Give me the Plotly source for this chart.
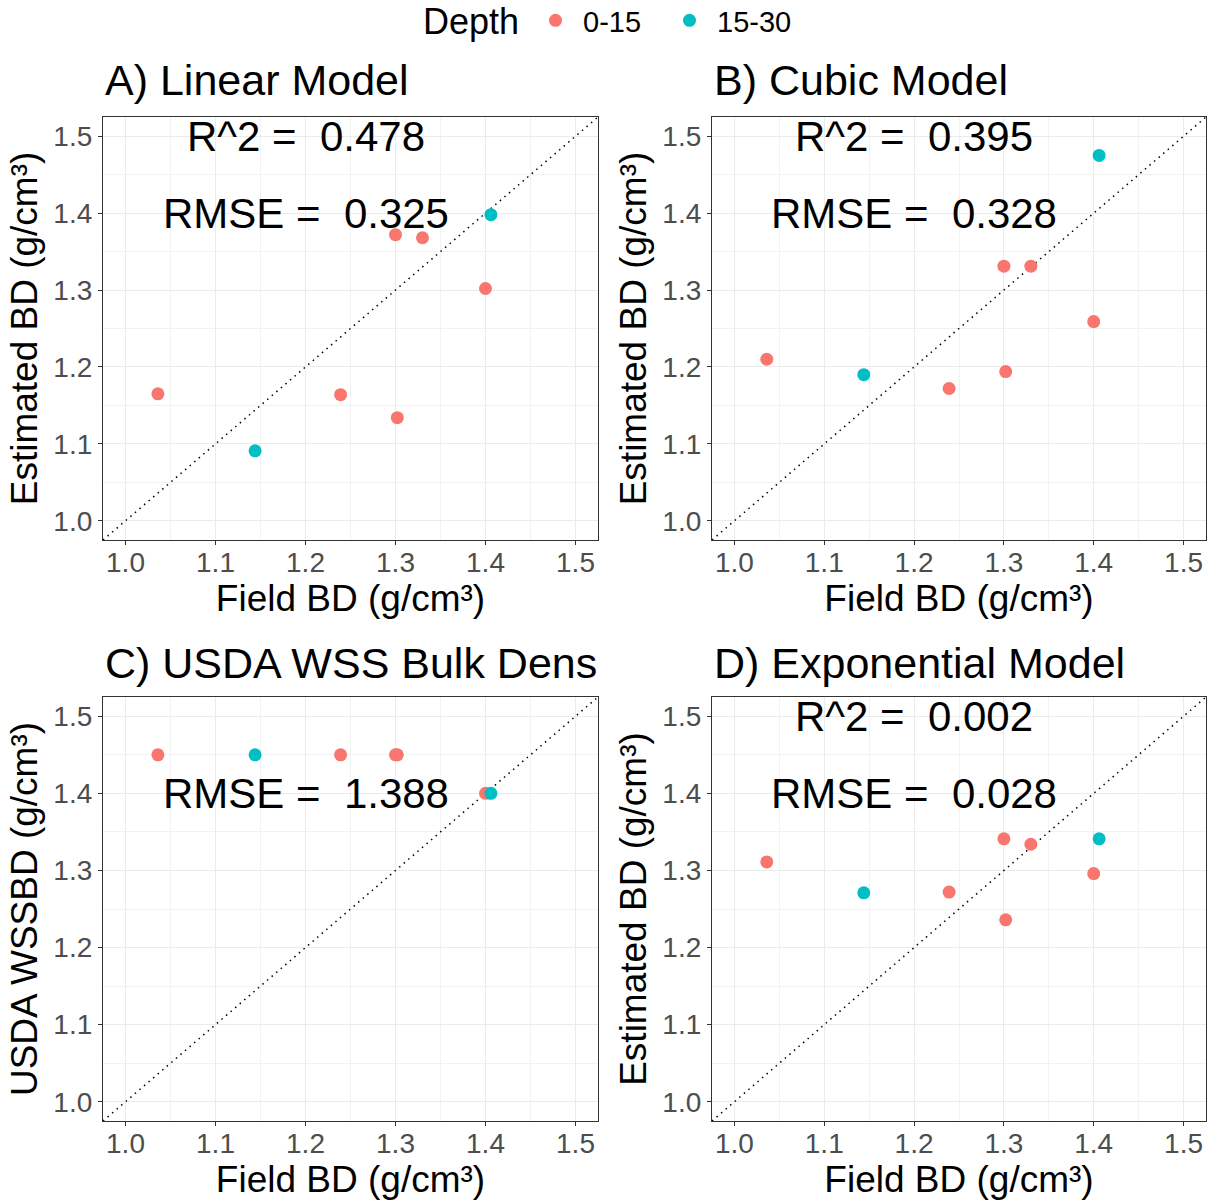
import plotly.graph_objects as go

# ---------------- data ----------------
depth_title = "Depth"
depth_labels = ["0-15", "15-30"]
depth_colors = ["#F8766D", "#00BFC4"]

field_bd_015 = [1.036, 1.239, 1.300, 1.302, 1.330, 1.400]
field_bd_1530 = [1.144, 1.406]

linear_015 = [1.165, 1.164, 1.372, 1.134, 1.368, 1.302]
linear_1530 = [1.091, 1.398]

cubic_015 = [1.210, 1.172, 1.331, 1.194, 1.331, 1.259]
cubic_1530 = [1.190, 1.475]

usda_015 = [1.45, 1.45, 1.45, 1.45, None, 1.40]
usda_1530 = [1.45, 1.40]

exp_015 = [1.311, 1.272, 1.341, 1.236, 1.334, 1.296]
exp_1530 = [1.271, 1.341]

panel_titles = ["A) Linear Model", "B) Cubic Model", "C) USDA WSS Bulk Dens", "D) Exponential Model"]
y_titles = ["Estimated BD (g/cm³)", "Estimated BD (g/cm³)", "USDA WSSBD (g/cm³)", "Estimated BD (g/cm³)"]
x_title = "Field BD (g/cm³)"
r2_labels = ["R^2 =\u00a0 0.478", "R^2 =\u00a0 0.395", None, "R^2 =\u00a0 0.002"]
rmse_labels = ["RMSE =\u00a0 0.325", "RMSE =\u00a0 0.328", "RMSE =\u00a0 1.388", "RMSE =\u00a0 0.028"]
tick_vals = [1.0, 1.1, 1.2, 1.3, 1.4, 1.5]
tick_text = ["1.0", "1.1", "1.2", "1.3", "1.4", "1.5"]
axis_range = [0.975, 1.525]
identity_line = [0.975, 1.525]

panels = [
    (linear_015, linear_1530),
    (cubic_015, cubic_1530),
    (usda_015, usda_1530),
    (exp_015, exp_1530),
]

# ---------------- layout geometry (pixels) ----------------
W, H = 1213, 1200
FONT = "Liberation Sans, Arial, sans-serif"
x_doms_px = [(103, 598), (712, 1206), (103, 598), (712, 1206)]
y_doms_px = [(117, 540), (117, 540), (697, 1121), (697, 1121)]
title_y_px = [80, 80, 663, 663]

fig = go.Figure()
layout = dict(
    width=W, height=H,
    margin=dict(l=0, r=0, t=0, b=0, autoexpand=False),
    paper_bgcolor="white", plot_bgcolor="white",
    font=dict(family=FONT, color="black"),
    showlegend=True,
    legend=dict(
        orientation="h", x=528 / W, xanchor="left", y=1 + 5 / H, yanchor="top",
        font=dict(size=29, color="black", family=FONT),
        itemwidth=45, entrywidth=74, bgcolor="rgba(0,0,0,0)",
    ),
)
annotations = [dict(
    text=depth_title, xref="paper", yref="paper", x=421 / W, y=1 - 22 / H,
    xanchor="left", yanchor="middle", showarrow=False,
    font=dict(size=36, color="black", family=FONT),
)]

for i, (v015, v1530) in enumerate(panels):
    ax = "" if i == 0 else str(i + 1)
    xa, ya = "x" + ax, "y" + ax
    # identity line
    fig.add_trace(go.Scatter(
        x=identity_line, y=identity_line, mode="lines",
        line=dict(color="black", width=1.5, dash="1.5px,4.5px"),
        xaxis=xa, yaxis=ya, showlegend=False, hoverinfo="skip",
    ))
    for j, (xs, ys) in enumerate([(field_bd_015, v015), (field_bd_1530, v1530)]):
        fig.add_trace(go.Scatter(
            x=xs, y=ys, mode="markers",
            marker=dict(color=depth_colors[j], size=13, line=dict(width=0)),
            name=depth_labels[j], legendgroup=depth_labels[j],
            showlegend=(i == 0), xaxis=xa, yaxis=ya,
        ))
    x0, x1 = x_doms_px[i]
    y0, y1 = y_doms_px[i]
    common = dict(
        range=axis_range, tickvals=tick_vals, ticktext=tick_text,
        showgrid=True, gridcolor="#EBEBEB", gridwidth=1,
        minor=dict(dtick=0.05, tick0=1.0, showgrid=True, gridcolor="#F2F2F2", gridwidth=0.7, ticks=""),
        zeroline=False, showline=True, mirror=True, linecolor="#333333", linewidth=1.2,
        ticks="outside", ticklen=4, tickcolor="#333333", tickwidth=1,
        tickfont=dict(size=28, color="#4D4D4D", family=FONT),
        fixedrange=True,
    )
    layout["xaxis" + ax] = dict(
        common, domain=[x0 / W, x1 / W], anchor=ya, ticklabelstandoff=-7,
        title=dict(text=x_title, font=dict(size=37, color="black", family=FONT), standoff=5),
    )
    layout["yaxis" + ax] = dict(
        common, domain=[1 - y1 / H, 1 - y0 / H], anchor=xa,
        title=dict(text=y_titles[i], font=dict(size=37, color="black", family=FONT), standoff=4),
    )
    annotations.append(dict(
        text=panel_titles[i], xref="paper", yref="paper",
        x=x0 / W, y=1 - title_y_px[i] / H, xanchor="left", yanchor="middle",
        showarrow=False, font=dict(size=43, color="black", family=FONT),
    ))
    if r2_labels[i]:
        annotations.append(dict(
            text=r2_labels[i], xref=xa, yref=ya, x=1.2, y=1.5,
            xanchor="center", yanchor="middle", showarrow=False,
            font=dict(size=42, color="black", family=FONT),
        ))
    annotations.append(dict(
        text=rmse_labels[i], xref=xa, yref=ya, x=1.2, y=1.4,
        xanchor="center", yanchor="middle", showarrow=False,
        font=dict(size=42, color="black", family=FONT),
    ))

layout["annotations"] = annotations
fig.update_layout(**layout)
fig.write_html("out.html")
